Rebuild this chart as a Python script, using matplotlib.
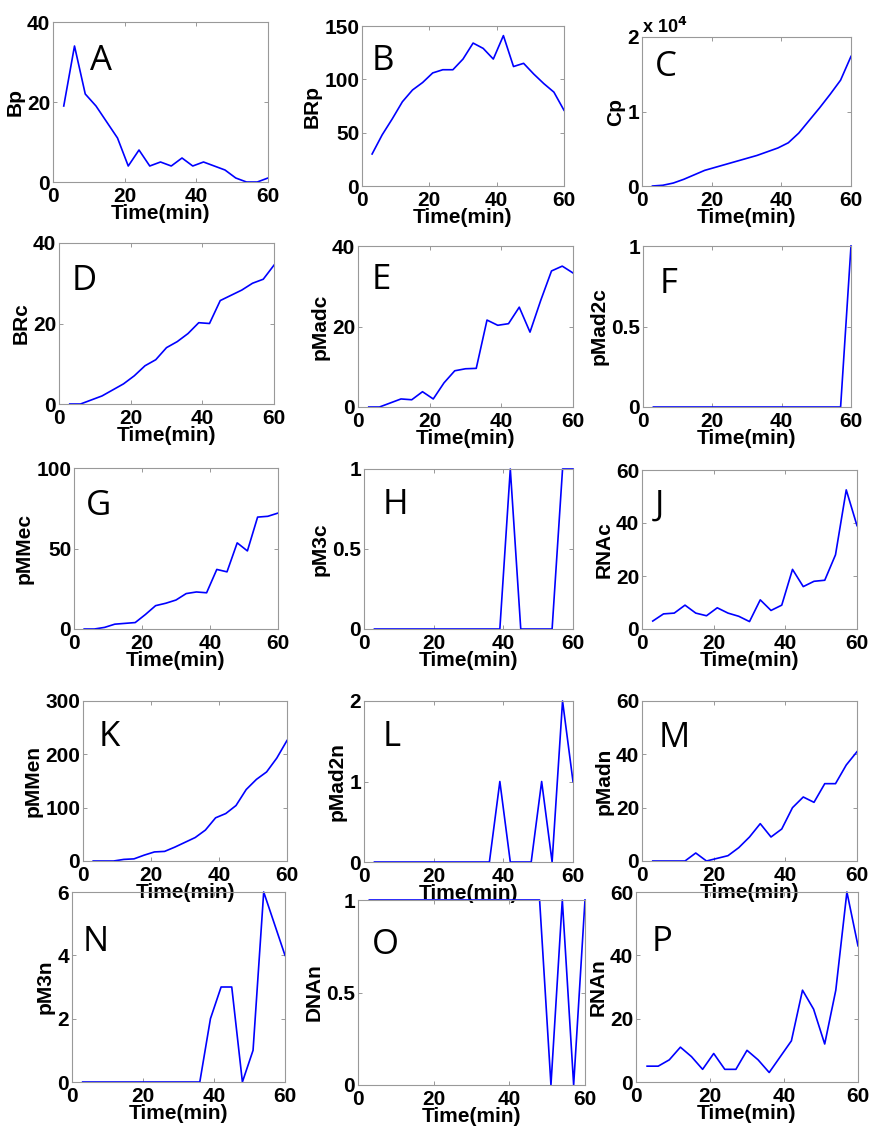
import matplotlib
matplotlib.use("Agg")
import matplotlib.pyplot as plt
from matplotlib.ticker import FuncFormatter

# sampling times (min)
time_min = [3, 6, 9, 12, 15, 18, 21, 24, 27, 30, 33, 36, 39, 42, 45, 48, 51, 54, 57, 60]

# measured species counts
bp = [19, 34, 22, 19, 15, 11, 4, 8, 4, 5, 4, 6, 4, 5, 4, 3, 1, 0, 0, 1]
brp = [30, 48, 63, 79, 90, 97, 106, 109, 109, 119, 134, 129, 119, 141, 112, 115, 105, 96, 88, 71]
cp = [0, 100, 400, 900, 1500, 2100, 2500, 2900, 3300, 3700, 4100, 4600, 5100, 5800,
      7100, 8800, 10500, 12300, 14200, 17400]
brc = [0, 0, 1, 2, 3.5, 5, 7, 9.5, 11, 14, 15.5, 17.5, 20.2, 20, 25.7, 27, 28.3, 30, 31, 34.5]
pmadc = [0, 0, 1, 2, 1.8, 3.8, 2, 6, 9, 9.5, 9.6, 21.6, 20.3, 20.7, 24.8, 18.6, 26.5, 33.8, 35, 33.3]
pmad2c = [0, 0, 0, 0, 0, 0, 0, 0, 0, 0, 0, 0, 0, 0, 0, 0, 0, 0, 0, 1]
pmmec = [0, 0, 1, 3, 3.5, 4, 9, 14.5, 16, 18, 22, 23, 22.5, 37, 35.5, 53.5, 48.5, 69.5, 70, 72]
pm3c = [0, 0, 0, 0, 0, 0, 0, 0, 0, 0, 0, 0, 0, 1, 0, 0, 0, 0, 1, 1]
rnac = [3, 5.7, 6, 9, 6, 5, 8, 6, 4.8, 2.8, 11, 7, 9, 22.5, 16, 18, 18.4, 28, 52.5, 39]
pmmen = [0, 0, 0, 3, 4, 11, 17, 18, 26, 35, 44, 58, 81, 89, 104, 134, 153, 167, 193, 226]
pmad2n = [0, 0, 0, 0, 0, 0, 0, 0, 0, 0, 0, 0, 1, 0, 0, 0, 1, 0, 2, 1]
pmadn = [0, 0, 0, 0, 3, 0, 1, 2, 5, 9, 14, 9, 12, 20, 24, 22, 29, 29, 36, 41]
pm3n = [0, 0, 0, 0, 0, 0, 0, 0, 0, 0, 0, 0, 2, 3, 3, 0, 1, 6, 5, 4]
dnan = [1, 1, 1, 1, 1, 1, 1, 1, 1, 1, 1, 1, 1, 1, 1, 1, 0, 1, 0, 1]
rnan = [5, 5, 7, 11, 8, 4, 9, 4, 4, 10, 7, 3, 8, 13, 29, 23, 12, 29, 60, 43]

# (letter, ylabel, values, ymax, yticks, axes box in px: left, top, right, bottom, letter pos)
panels = [
    ("A", "Bp", bp, 40, [0, 20, 40], (53, 22, 268, 182), (0.17, 0.70)),
    ("B", "BRp", brp, 150, [0, 50, 100, 150], (362, 26, 564, 186), (0.05, 0.725)),
    ("C", "Cp", cp, 20000, [0, 10000, 20000], (642, 37, 851, 186), (0.06, 0.74)),
    ("D", "BRc", brc, 40, [0, 20, 40], (59, 243, 274, 404), (0.06, 0.71)),
    ("E", "pMadc", pmadc, 40, [0, 20, 40], (358, 246, 573, 407), (0.065, 0.73)),
    ("F", "pMad2c", pmad2c, 1, [0, 0.5, 1], (643, 246, 851, 407), (0.08, 0.71)),
    ("G", "pMMec", pmmec, 100, [0, 50, 100], (74, 468, 278, 629), (0.06, 0.71)),
    ("H", "pM3c", pm3c, 1, [0, 0.5, 1], (364, 469, 573, 629), (0.09, 0.72)),
    ("J", "RNAc", rnac, 60, [0, 20, 40, 60], (642, 470, 857, 629), (0.06, 0.72)),
    ("K", "pMMen", pmmen, 300, [0, 100, 200, 300], (83, 701, 287, 861), (0.075, 0.72)),
    ("L", "pMad2n", pmad2n, 2, [0, 1, 2], (364, 701, 573, 862), (0.09, 0.72)),
    ("M", "pMadn", pmadn, 60, [0, 20, 40, 60], (642, 701, 857, 861), (0.075, 0.71)),
    ("N", "pM3n", pm3n, 6, [0, 2, 4, 6], (72, 892, 285, 1082), (0.05, 0.69)),
    ("O", "DNAn", dnan, 1, [0, 0.5, 1], (358, 900, 585, 1085), (0.06, 0.71)),
    ("P", "RNAn", rnan, 60, [0, 20, 40, 60], (636, 892, 858, 1082), (0.07, 0.69)),
]

W, H = 870, 1128
plt.rcParams.update({
    "font.family": ["Liberation Sans", "DejaVu Sans"],
    "font.weight": "bold",
    "font.size": 15,
    "axes.linewidth": 0.8,
})

fig = plt.figure(figsize=(W / 100, H / 100), dpi=100)
fig.patch.set_facecolor("white")

for letter, ylab, vals, ymax, yt, box, lpos in panels:
    l, t, r, b = box
    ax = fig.add_axes([l / W, 1 - b / H, (r - l) / W, (b - t) / H])
    ax.set_facecolor("none")  # keep neighbouring labels visible
    ax.plot(time_min, vals, color="#0000ff", linewidth=1.2, clip_on=False)
    ax.set_xlim(0, 60)
    ax.set_ylim(0, ymax)
    ax.set_xticks([0, 20, 40, 60])
    ax.set_yticks(yt)
    if letter == "C":
        ax.yaxis.set_major_formatter(FuncFormatter(lambda v, _: f"{v / 1e4:g}"))
        ax.text(0.0, 1.0, r"x 10$^{\mathbf{4}}$", transform=ax.transAxes, fontsize=13,
                fontweight="bold", ha="left", va="bottom")
    else:
        ax.yaxis.set_major_formatter(FuncFormatter(lambda v, _: f"{v:g}"))
    ax.tick_params(direction="in", length=3, width=0.6, color="#888888",
                   top=True, right=True, pad=2, labelsize=15)
    ax.tick_params(axis="x", pad=3.5)
    for s in ax.spines.values():
        s.set_color("#999999")
    ax.set_xlabel("Time(min)", fontsize=15, fontweight="bold", labelpad=-1.5)
    ax.set_ylabel(ylab, fontsize=15, fontweight="bold", labelpad=2)
    ax.text(lpos[0], lpos[1], letter, transform=ax.transAxes, fontsize=25,
            fontweight="normal", family="Open Sans", ha="left", va="baseline")

fig.savefig("out.png", dpi=100)
